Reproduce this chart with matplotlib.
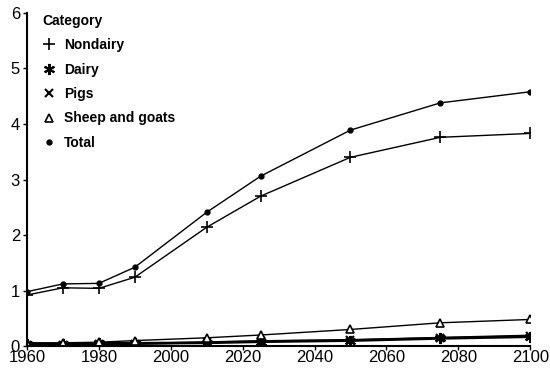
import matplotlib.pyplot as plt

years = [1960, 1970, 1980, 1990, 2010, 2025, 2050, 2075, 2100]
nondairy = [0.92, 1.05, 1.04, 1.24, 2.14, 2.70, 3.40, 3.76, 3.83]
dairy = [0.04, 0.04, 0.05, 0.05, 0.06, 0.08, 0.10, 0.14, 0.17]
pigs = [0.02, 0.02, 0.03, 0.04, 0.07, 0.09, 0.11, 0.15, 0.19]
sheep_goats = [0.06, 0.06, 0.07, 0.10, 0.15, 0.20, 0.30, 0.42, 0.48]
total = [0.98, 1.12, 1.13, 1.42, 2.41, 3.06, 3.89, 4.38, 4.58]

plt.rcParams['font.family'] = ['Liberation Sans', 'DejaVu Sans']

fig = plt.figure(figsize=(5.5, 3.69), dpi=100)
ax = fig.add_axes([0.049, 0.062, 0.915, 0.903])

ax.plot(years, nondairy, color='black', lw=1, marker='+', ms=8, mew=1.2, label='Nondairy')
ax.plot(years, dairy, color='black', lw=2, marker=(6, 2, 0), ms=8, mew=1.5, label='Dairy')
ax.plot(years, pigs, color='black', lw=1.5, marker='x', ms=6, mew=1.5, label='Pigs')
ax.plot(years, sheep_goats, color='black', lw=1, marker='^', ms=6, mfc='white', mew=1.2, label='Sheep and goats')
ax.plot(years, total, color='black', lw=1, marker='o', ms=3.5, label='Total')

ax.set_xlim(1960, 2100)
ax.set_ylim(0, 6)
ax.set_xticks(range(1960, 2101, 20))
ax.set_yticks(range(0, 7))
ax.tick_params(labelsize=12, length=3, width=1, color='black')
ax.tick_params(axis='x', pad=0)
ax.tick_params(axis='y', pad=2)
ax.spines['top'].set_visible(False)
ax.spines['right'].set_visible(False)
ax.spines['left'].set_linewidth(1.5)
ax.spines['bottom'].set_linewidth(1.5)

leg = ax.legend(loc='upper left', bbox_to_anchor=(0.005, 1.035), frameon=False, title='Category',
                handlelength=1.0, labelspacing=0.75, handletextpad=0.6,
                prop={'weight': 'bold', 'size': 10})
leg.get_title().set_fontweight('bold')
leg.get_title().set_fontsize(10)
leg._legend_box.align = 'left'
for line in leg.get_lines():
    line.set_linestyle('none')

fig.savefig('out.png', dpi=100)
